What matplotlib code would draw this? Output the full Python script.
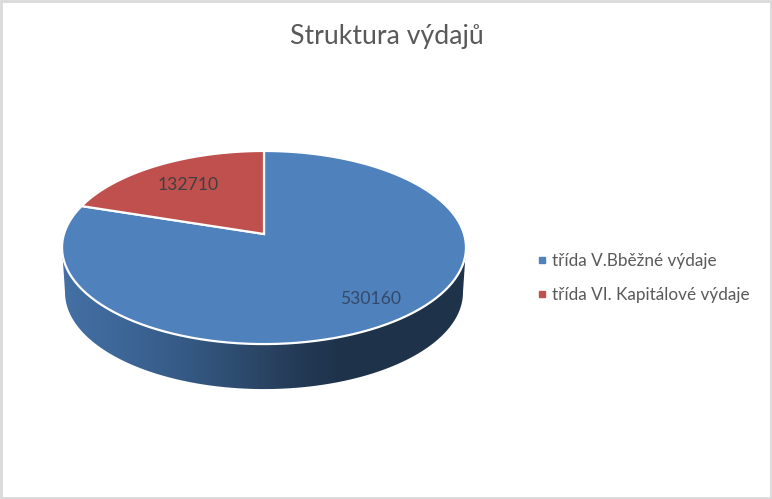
import numpy as np
import matplotlib
matplotlib.use("Agg")
import matplotlib.pyplot as plt
from matplotlib.colors import LinearSegmentedColormap
from matplotlib.lines import Line2D
from matplotlib.patches import Polygon, Rectangle

categories = ["třída V.Bběžné výdaje", "třída VI. Kapitálové výdaje"]
values = [530160, 132710]
colors = ["#4f81bd", "#c0504d"]
title = "Struktura výdajů"

plt.rcParams['font.family'] = ['Lato', 'DejaVu Sans']
W, H = 772, 499

# pie lies flat and is seen in perspective, this maps the unit circle to pixels
def project(theta):
    x = np.sin(theta)
    y = np.cos(theta)
    w = 1 + 0.14 * y
    return 264 + 200 * x / w, (234 - 61.9 * y) / w

def wedge(t0, t1):
    th = np.linspace(t0, t1, 120)
    px, py = project(th)
    return np.column_stack([np.r_[264, px], np.r_[234, py]])

fig = plt.figure(figsize=(W / 100, H / 100), dpi=100)
ax = fig.add_axes([0, 0, 1, 1])
ax.set_xlim(0, W)
ax.set_ylim(H, 0)
ax.axis("off")

ax.add_patch(Rectangle((1, 1), W - 2, H - 2, fc="white", ec="#d9d9d9", lw=2))

# side wall with the dark gradient
th = np.linspace(np.pi / 2 + 0.14, 3 * np.pi / 2 - 0.14, 200)
rx, ry = project(th)
bx = 264 + (rx - 264) * 0.985
by = ry + 45
wall = Polygon(np.column_stack([np.r_[rx, bx[::-1]], np.r_[ry, by[::-1]]]),
               closed=True, fc="none", ec="none")
ax.add_patch(wall)
cmap = LinearSegmentedColormap.from_list("wall", [
    (0.0, "#4470a5"), (0.17, "#3c6595"), (0.34, "#33567f"),
    (0.5, "#2a4463"), (0.59, "#233a56"), (0.7, "#1e3249"), (1.0, "#1f3349")])
img = ax.imshow(np.linspace(0, 1, 256)[None, :], cmap=cmap, aspect="auto",
                extent=(62, 466, by.max() + 2, ry.min() - 2), zorder=2)
img.set_clip_path(wall)
ax.set_xlim(0, W)
ax.set_ylim(H, 0)

# top face, clockwise from 12 o'clock, the blue slice first
angles = np.r_[0, np.cumsum(values)] / np.sum(values) * 2 * np.pi
for i, c in enumerate(colors):
    ax.add_patch(Polygon(wedge(angles[i], angles[i + 1]), closed=True, fc=c,
                         ec="white", lw=1.6, joinstyle="miter", zorder=3))

ax.text(188, 185, str(values[1]), fontsize=12.6, color="#404040", ha="center", va="center", zorder=4)
ax.text(371, 299, str(values[0]), fontsize=12.6, color="#34496a", ha="center", va="center", zorder=4)

ax.text(387, 36.5, title, fontsize=19.2, color="#595959", ha="center", va="center")

handles = [Line2D([], [], ls="none", marker="s", ms=4.4, color=c) for c in colors]
ax.legend(handles, categories, loc="center left", bbox_to_anchor=(537, 278),
          bbox_transform=ax.transData, frameon=False, fontsize=12.3,
          labelcolor="#595959", handlelength=0.6, handletextpad=0.25,
          labelspacing=1.05, borderpad=0, borderaxespad=0)

fig.savefig("out.png", dpi=100)
